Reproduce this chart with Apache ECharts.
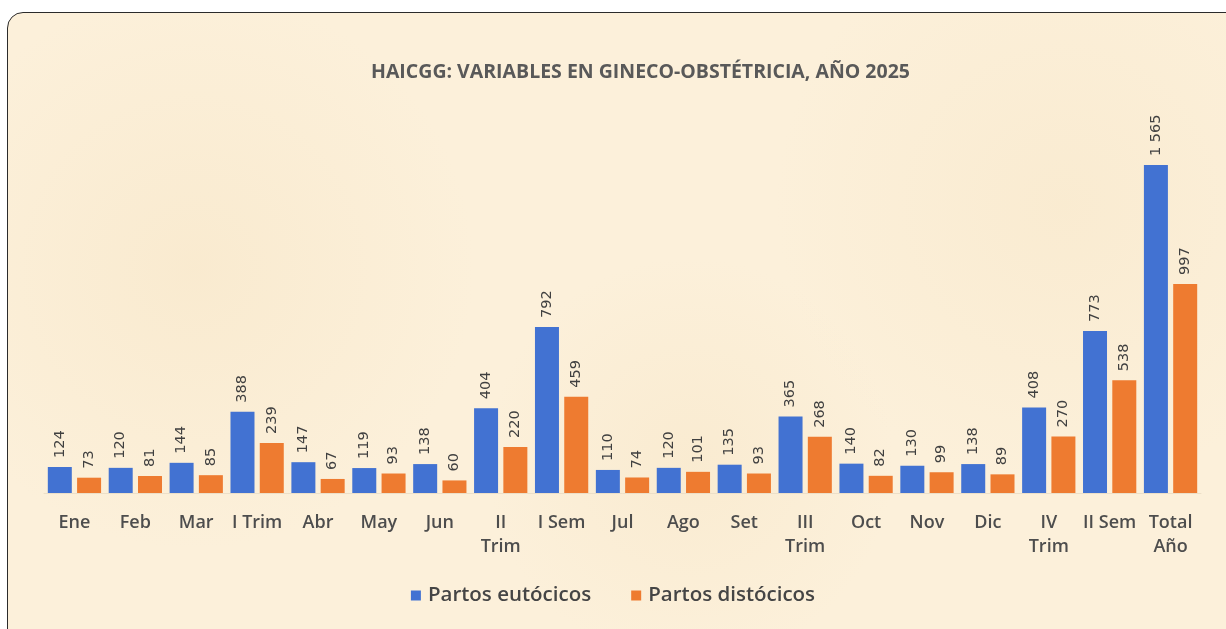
<!DOCTYPE html>
<html>
<head>
<meta charset="utf-8">
<script src="https://cdn.jsdelivr.net/npm/echarts@6/dist/echarts.min.js"></script>
<style>
  html, body { margin: 0; padding: 0; background: #ffffff; overflow: hidden; }
  .frame {
    position: absolute; left: 7px; top: 12px; width: 1240px; height: 640px;
    border: 1.5px solid #2b2b2b; border-radius: 16px;
    background:
      radial-gradient(circle at 15% 40%, rgba(244,224,188,0.35), rgba(0,0,0,0) 25%),
      radial-gradient(circle at 55% 70%, rgba(244,224,188,0.3), rgba(0,0,0,0) 25%),
      radial-gradient(circle at 85% 30%, rgba(244,224,188,0.3), rgba(0,0,0,0) 25%),
      #fcf0da;
  }
  #chart { position: absolute; left: 0; top: 0; width: 1226px; height: 629px; }
</style>
</head>
<body>
<div class="frame"></div>
<div id="chart"></div>
<script>
const categories = ["Ene", "Feb", "Mar", "I Trim", "Abr", "May", "Jun", "II\nTrim", "I Sem", "Jul",
  "Ago", "Set", "III\nTrim", "Oct", "Nov", "Dic", "IV\nTrim", "II Sem", "Total\nAño"];
const eutocicos = [124, 120, 144, 388, 147, 119, 138, 404, 792, 110, 120, 135, 365, 140, 130, 138, 408, 773, 1565];
const distocicos = [73, 81, 85, 239, 67, 93, 60, 220, 459, 74, 101, 93, 268, 82, 99, 89, 270, 538, 997];

const chart = echarts.init(document.getElementById("chart"));
const fmt = p => p.value >= 1000 ? Math.floor(p.value / 1000) + " " + String(p.value % 1000).padStart(3, "0") : String(p.value);
const labelStyle = {
  show: true, position: "top", rotate: 90, align: "left", verticalAlign: "middle",
  distance: 9, color: "#404040", fontSize: 14.5, fontFamily: "DejaVu Sans", formatter: fmt
};

chart.setOption({
  backgroundColor: "transparent",
  color: ["#4272d2", "#ee7b30"],
  title: {
    text: "HAICGG: VARIABLES EN GINECO-OBSTÉTRICIA, AÑO 2025",
    left: 366, top: 57,
    textStyle: { color: "#595959", fontSize: 19.5, fontWeight: "bold", fontFamily: "Open Sans" }
  },
  legend: {
    bottom: 18, left: "center",
    itemWidth: 10, itemHeight: 10, itemGap: 40,
    icon: "rect",
    textStyle: { color: "#454545", fontSize: 20.5, fontWeight: 600, fontFamily: "Open Sans", padding: [0, 0, 0, 2] },
    data: ["Partos eutócicos", "Partos distócicos"]
  },
  grid: { left: 44, right: 25, top: 100, bottom: 136 },
  xAxis: {
    type: "category",
    data: categories,
    axisTick: { show: false },
    axisLine: { show: true, lineStyle: { color: "#ecdfc8", width: 1 } },
    axisLabel: { color: "#4d4d4d", fontSize: 18, fontWeight: 600, fontFamily: "Open Sans", margin: 18, lineHeight: 24, interval: 0 }
  },
  yAxis: {
    type: "value", min: 0, max: 1875, show: false,
    splitLine: { show: false }
  },
  series: [
    { name: "Partos eutócicos", type: "bar", data: eutocicos, barWidth: 24, barGap: "22%", label: labelStyle },
    { name: "Partos distócicos", type: "bar", data: distocicos, barWidth: 24, label: labelStyle }
  ]
});
</script>
</body>
</html>
